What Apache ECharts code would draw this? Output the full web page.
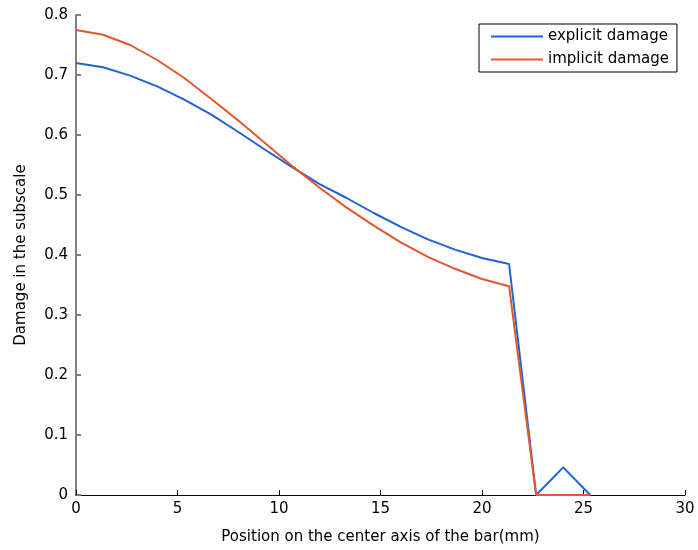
<!DOCTYPE html>
<html>
<head>
<meta charset="utf-8">
<script src="https://cdn.jsdelivr.net/npm/echarts@6/dist/echarts.min.js"></script>
<style>
  html, body { margin: 0; padding: 0; background: #fff; }
  #chart { width: 698px; height: 550px; }
</style>
</head>
<body>
<div id="chart"></div>
<script>
// positions along the bar (mm)
var positions = [0, 1.333, 2.667, 4, 5.333, 6.667, 8, 9.333, 10.667, 12,
  13.333, 14.667, 16, 17.333, 18.667, 20, 21.333, 22.667, 24, 25.333];
var explicitDamage = [0.720, 0.713, 0.699, 0.681, 0.659, 0.634, 0.605, 0.575, 0.546, 0.518,
  0.495, 0.470, 0.447, 0.426, 0.409, 0.395, 0.385, 0, 0.046, 0];
var implicitDamage = [0.775, 0.767, 0.750, 0.725, 0.695, 0.660, 0.624, 0.586, 0.548, 0.512,
  0.479, 0.449, 0.421, 0.397, 0.377, 0.360, 0.348, 0, 0, 0];
var xTicks = [0, 5, 10, 15, 20, 25, 30];
var yTicks = [0, 0.1, 0.2, 0.3, 0.4, 0.5, 0.6, 0.7, 0.8];

function pairs(ys) {
  return positions.map(function (x, i) { return [x, ys[i]]; });
}

var chart = echarts.init(document.getElementById('chart'), null, { renderer: 'canvas' });
var font = 'DejaVu Sans, Liberation Sans, sans-serif';

chart.setOption({
  animation: false,
  textStyle: { fontFamily: font },
  grid: { left: 76, right: 13, top: 15, bottom: 55, containLabel: false },
  legend: {
    orient: 'vertical',
    left: 479,
    top: 24,
    padding: [4, 8, 4, 12],
    itemGap: 6,
    itemWidth: 52,
    itemHeight: 2,
    icon: 'rect',
    borderColor: '#000',
    borderWidth: 1,
    backgroundColor: '#fff',
    textStyle: { fontSize: 15, color: '#000', fontFamily: font, lineHeight: 17 },
    data: ['explicit damage', 'implicit damage']
  },
  xAxis: {
    type: 'value',
    min: xTicks[0],
    max: xTicks[xTicks.length - 1],
    interval: 5,
    name: 'Position on the center axis of the bar(mm)',
    nameLocation: 'middle',
    nameGap: 35,
    nameTextStyle: { fontSize: 15, color: '#000', fontFamily: font },
    axisLine: { show: true, lineStyle: { color: '#000', width: 1 } },
    axisTick: { show: true, inside: true, length: 5, lineStyle: { color: '#000' } },
    axisLabel: { fontSize: 15, color: '#000', margin: 7, fontFamily: font },
    splitLine: { show: false }
  },
  yAxis: {
    type: 'value',
    min: yTicks[0],
    max: yTicks[yTicks.length - 1],
    interval: 0.1,
    name: 'Damage in the subscale',
    nameLocation: 'middle',
    nameGap: 47,
    nameTextStyle: { fontSize: 15, color: '#000', fontFamily: font },
    axisLine: { show: true, lineStyle: { color: '#808080', width: 2 } },
    axisTick: { show: true, inside: true, length: 5, lineStyle: { color: '#808080', width: 2 } },
    axisLabel: {
      fontSize: 15, color: '#000', margin: 8, fontFamily: font,
      formatter: function (v) { return String(Math.round(v * 10) / 10); }
    },
    splitLine: { show: false }
  },
  series: [
    {
      name: 'explicit damage',
      type: 'line',
      data: pairs(explicitDamage),
      showSymbol: false,
      symbol: 'none',
      color: '#1f62d6',
      lineStyle: { color: '#1f62d6', width: 2 },
      z: 3
    },
    {
      name: 'implicit damage',
      type: 'line',
      data: pairs(implicitDamage),
      showSymbol: false,
      symbol: 'none',
      color: '#e4572a',
      lineStyle: { color: '#e4572a', width: 2 },
      z: 4
    }
  ]
});
</script>
</body>
</html>
